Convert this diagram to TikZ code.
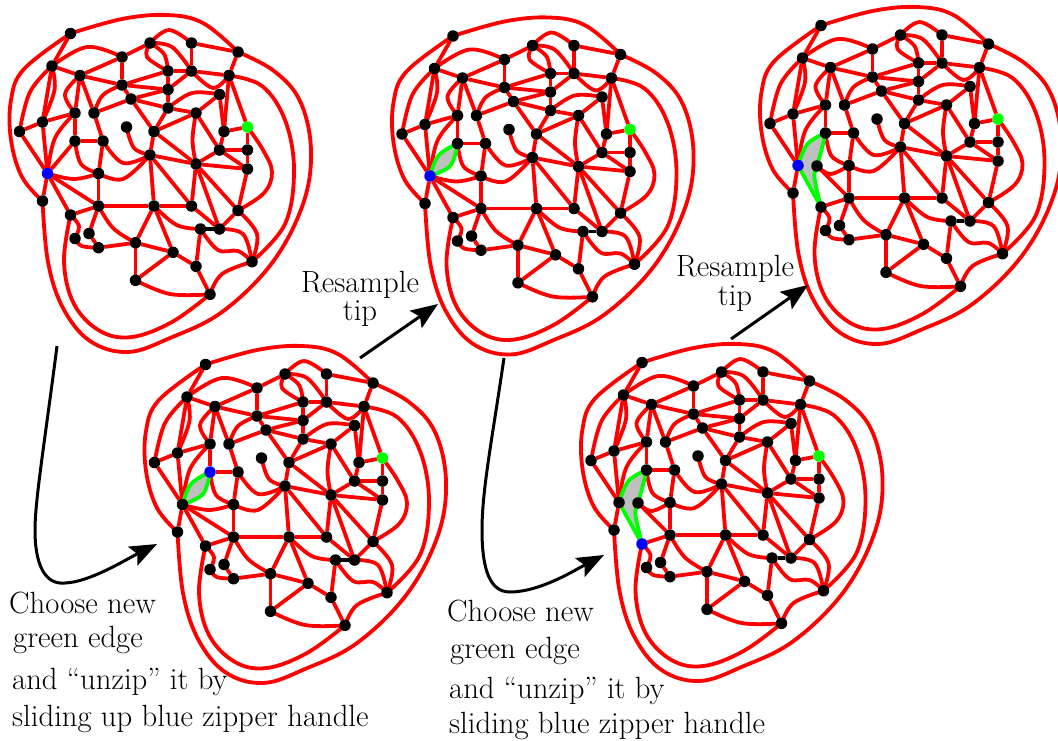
\documentclass[tikz,border=0pt]{standalone}
\usepackage{tikz}
\usetikzlibrary{arrows.meta,backgrounds}

\newcommand{\curveedge}[3]{\draw[edge] plot[smooth,tension=0.62] coordinates {(#1.center) #2 (#3.center)};}

% vertices and edges that every copy of the map has
\newcommand{\sharedmap}{
    \node[vert] (a) at (70.5,33.5) {};
    \node[vert] (b) at (52,66) {};
    \node[vert] (c) at (80,75.5) {};
    \node[vert] (d) at (122,57) {};
    \node[vert] (e) at (150,43) {};
    \node[vert] (f) at (191.5,43) {};
    \node[vert] (g) at (238,52) {};
    \node[vert] (h) at (168,71) {};
    \node[vert] (i) at (191.5,71) {};
    \node[vert] (j) at (229,75.5) {};
    \node[vert] (k) at (122,85) {};
    \node[vert] (l) at (168,89.5) {};
    \node[vert] (m) at (131,99) {};
    \node[vert] (n) at (168,108) {};
    \node[vert] (o) at (219.5,94.5) {};
    \node[vert] (p) at (196,113) {};
    \node[vert] (q) at (75,113) {};
    \node[vert] (r) at (94,113) {};
    \node[vert] (s) at (42.5,122) {};
    \node[vert] (t) at (19.5,131.5) {};
    \node[vert] (u) at (126.5,127) {};
    \node[vert] (v) at (154,131.5) {};
    \node[vert] (w) at (224,131.5) {};
    \node[vert,fill=green] (x) at (247.5,127) {};
    \node[vert,handleY] (y) at (75,141) {};
    \node[vert] (z) at (103,141) {};
    \node[vert] (aa) at (150,155) {};
    \node[vert] (ab) at (219.5,150) {};
    \node[vert] (ac) at (247.5,150) {};
    \node[vert] (ad) at (196,164) {};
    \node[vert] (ae) at (247.5,169) {};
    \node[vert,handleB] (B) at (47.5,173.5) {};
    \node[vert] (af) at (98.5,173.5) {};
    \node[vert] (ag) at (42.5,201) {};
    \node[vert] (ah) at (98.5,206) {};
    \node[vert] (ai) at (154,206) {};
    \node[vert] (aj) at (191.5,206) {};
    \node[vert] (ak) at (238,210.5) {};
    \node[vert,handleL] (al) at (70.5,215) {};
    \node[vert] (am) at (200.5,229) {};
    \node[vert] (an) at (219.5,229) {};
    \node[vert] (ao) at (135.5,242.7) {};
    \node[vert] (ap) at (89,233.5) {};
    \node[vert] (aq) at (75,238.5) {};
    \node[vert] (ar) at (98.5,247.7) {};
    \node[vert] (as) at (173,252.3) {};
    \node[vert] (at) at (196,266.3) {};
    \node[vert] (au) at (252,261.7) {};
    \node[vert] (av) at (135.5,280.3) {};
    \node[vert] (aw) at (210,294.3) {};
    \begin{scope}[on background layer]
    % outer curves
    \curveedge{a}{(122,19) (167,15) (203,23)}{g}
    \curveedge{g}{(274,71) (300,101) (311,150) (303,204) (272,263) (222,312) (170,338) (128,352) (90,341) (63,308) (48,262)}{ag}
    \curveedge{a}{(24,69) (11,100) (11,140) (22,177)}{ag}
    \curveedge{j}{(262,86) (285,120) (294,170) (285,224)}{au}
    \curveedge{al}{(64,262) (74,304) (100,331) (132,337) (172,322)}{aw}
    % top of the map
    \draw[edge] (a) -- (b);
    \draw[edge] (b) -- (c);
    \draw[edge] (c) -- (d);
    \draw[edge] (d) -- (e);
    \draw[edge] (c) -- (k);
    \draw[edge] (d) -- (k);
    \draw[edge] (k) -- (h);
    \draw[edge] (k) -- (l);
    \draw[edge] (k) -- (m);
    \draw[edge] (f) -- (g);
    \draw[edge] (f) -- (i);
    \draw[edge] (h) -- (i);
    \draw[edge] (i) -- (j);
    \draw[edge] (g) -- (j);
    \draw[edge] (i) -- (l);
    \draw[edge] (h) -- (l);
    \draw[edge] (l) -- (n);
    \draw[edge] (l) -- (m);
    \draw[edge] (m) -- (r);
    \draw[edge] (m) -- (n);
    \draw[edge] (m) -- (v);
    \draw[edge] (n) -- (v);
    \draw[edge] (n) -- (p);
    \draw[edge] (v) -- (p);
    \draw[edge] (o) -- (p);
    \draw[edge] (o) -- (w);
    \draw[edge] (j) -- (x);
    \draw[edge] (w) -- (x);
    \draw[edge] (x) -- (ac);
    \draw[edge] (w) -- (ab);
    \draw[edge] (ab) -- (ac);
    \draw[edge] (ab) -- (ae);
    \draw[edge] (ac) -- (ae);
    \draw[edge] (ab) -- (p);
    \draw[edge] (ab) -- (ad);
    \draw[edge] (v) -- (aa);
    \draw[edge] (v) -- (ad);
    \draw[edge] (aa) -- (ad);
    \draw[edge] (ad) -- (ae);
    \curveedge{b}{(30,92)}{t}
    \curveedge{b}{(87,47)}{d}
    \curveedge{b}{(54.5,90)}{s}
    \draw[edge] (b) -- (s);
    \curveedge{e}{(169,30)}{f}
    \curveedge{e}{(164,54)}{h}
    \curveedge{e}{(147,57)}{h}
    \curveedge{e}{(172,47)}{i}
    \curveedge{i}{(213,88)}{j}
    \curveedge{n}{(192,93)}{o}
    \curveedge{k}{(103,95)}{r}
    \curveedge{j}{(226.5,103)}{w}
    \curveedge{p}{(192.5,140)}{ad}
    \curveedge{u}{(134,148)}{aa}
    \curveedge{x}{(263,150) (272,172) (264,193)}{ak}
    % left of the map
    \draw[edge] (c) -- (q);
    \draw[edge] (c) -- (r);
    \draw[edge] (q) -- (s);
    \draw[edge] (s) -- (t);
    \draw[edge] (q) -- (y);
    \draw[edge] (r) -- (z);
    \draw[edge] (y) -- (z);
    \draw[edge] (z) -- (af);
    \draw[edge] (s) -- (B);
    \draw[edge] (t) -- (B);
    \draw[edge] (B) -- (ag);
    \draw[edge] (af) -- (ah);
    \curveedge{c}{(65,94)}{q}
    \curveedge{q}{(55,138)}{B}
    \curveedge{y}{(81,164)}{af}
    \curveedge{z}{(123,163)}{aa}
    \curveedge{af}{(123,179)}{aa}
    % bottom of the map
    \draw[edge] (aa) -- (ai);
    \draw[edge] (aa) -- (aj);
    \draw[edge] (ad) -- (aj);
    \draw[edge] (ad) -- (an);
    \draw[edge] (ad) -- (ak);
    \draw[edge] (ae) -- (ak);
    \draw[edge] (ah) -- (ai);
    \draw[edge] (ai) -- (aj);
    \draw[edge] (al) -- (ah);
    \draw[edge] (ah) -- (ap);
    \draw[edge] (ai) -- (ao);
    \draw[edge] (ai) -- (as);
    \draw[edge] (aj) -- (an);
    \draw[edge] (an) -- (ak);
    \draw[edge] (am) -- (at);
    \draw[edge] (ap) -- (ar);
    \draw[edge] (ar) -- (ao);
    \draw[edge] (ao) -- (as);
    \draw[edge] (ao) -- (av);
    \draw[edge] (as) -- (av);
    \draw[edge] (as) -- (at);
    \draw[edge] (at) -- (aw);
    \draw[edge,black] (am) -- (an);
    \curveedge{ah}{(113.3,228.3)}{ao}
    \curveedge{ai}{(176.7,225)}{am}
    \curveedge{am}{(218,250) (238,251)}{au}
    \curveedge{an}{(243,234)}{au}
    \curveedge{ak}{(257,234)}{au}
    \curveedge{al}{(79,226)}{aq}
    \curveedge{aq}{(81.7,246)}{ar}
    \curveedge{av}{(170,294)}{aw}
    \curveedge{aw}{(222,274)}{au}
    \end{scope}
}

% the two edges that go with the blue vertex until it is unzipped
\newcommand{\closedspokes}{
    \begin{scope}[on background layer]
    \draw[edge] (B) -- (al);
    \draw[edge] (B) -- (ah);
    \curveedge{B}{(74,179)}{af}
    \end{scope}
}

% short unzipped part
\newcommand{\shortlens}{
    \begin{scope}[on background layer]
    \path[fill=zipgray] plot[smooth,tension=0.62] coordinates {(B.center) (56,153) (y.center)} -- plot[smooth,tension=0.62] coordinates {(y.center) (68,163) (B.center)} -- cycle;
    \draw[zip] plot[smooth,tension=0.62] coordinates {(B.center) (56,153) (y.center)};
    \draw[zip] plot[smooth,tension=0.62] coordinates {(y.center) (68,163) (B.center)};
    \end{scope}
}

% long unzipped part, the far side gets its own vertex
\newcommand{\longlens}{
    \node[vert] (Bb) at (66.5,174) {};
    \begin{scope}[on background layer]
    \draw[edge] (Bb) -- (ah);
    \curveedge{Bb}{(80,182)}{af}
    \path[fill=zipgray] plot[smooth,tension=0.62] coordinates {(B.center) (57,152) (y.center)} -- plot[smooth,tension=0.62] coordinates {(y.center) (71,158) (Bb.center) (64,186) (al.center)} -- cycle;
    \draw[zip] plot[smooth,tension=0.62] coordinates {(B.center) (57,152) (y.center)};
    \draw[zip] plot[smooth,tension=0.62] coordinates {(y.center) (71,158) (Bb.center) (64,186) (al.center)};
    \draw[zip] (B) -- (al);
    \end{scope}
}

\definecolor{zipgray}{gray}{0.75}

\begin{document}
\begin{tikzpicture}[
        x=1pt,y=-1pt,
        vert/.style={circle,fill=black,inner sep=0pt,outer sep=0pt,minimum size=11.5pt},
        edge/.style={draw=red,line width=3.8pt,line join=round},
        zip/.style={draw=green,line width=3.8pt,line join=round},
        handleB/.style={},
        handleY/.style={},
        handleL/.style={},
        arrow/.style={draw=black,line width=3pt,-{Stealth[length=27pt,width=21pt,inset=5pt]}},
        note/.style={font=\fontsize{30.7}{34}\selectfont,inner sep=0pt},
    ]
    \useasboundingbox (0,0) rectangle (1058,740);

    \begin{scope}[name prefix=one-,handleB/.style={fill=blue}]
        \sharedmap
        \closedspokes
        \begin{scope}[on background layer]
        \draw[edge] (B) -- (y);
        \end{scope}
    \end{scope}
    \begin{scope}[shift={(382.5,2.5)},name prefix=two-,handleB/.style={fill=blue}]
        \sharedmap
        \closedspokes
        \shortlens
    \end{scope}
    \begin{scope}[shift={(750.5,-8)},name prefix=three-,handleB/.style={fill=blue}]
        \sharedmap
        \longlens
    \end{scope}
    \begin{scope}[shift={(135,331)},name prefix=four-,handleY/.style={fill=blue}]
        \sharedmap
        \closedspokes
        \shortlens
    \end{scope}
    \begin{scope}[shift={(571.5,329)},name prefix=five-,handleL/.style={fill=blue}]
        \sharedmap
        \longlens
    \end{scope}

    \coordinate (drop1) at (57,346);
    \coordinate (land1) at (157,544);
    \coordinate (up1) at (360,358);
    \coordinate (tip1) at (438,304);
    \coordinate (drop2) at (504,358);
    \coordinate (land2) at (604,555);
    \coordinate (up2) at (731,339);
    \coordinate (tip2) at (808,285);

    \draw[arrow] (drop1) .. controls (45,440) and (35,500) .. (35,530) .. controls (35,565) and (45,585) .. (65,583) .. controls (90,582) and (125,560) .. (land1);
    \draw[arrow] (up1) -- (tip1);
    \draw[arrow] (drop2) .. controls (492,440) and (482,490) .. (482,530) .. controls (482,570) and (490,592) .. (510,592) .. controls (540,592) and (575,570) .. (land2);
    \draw[arrow] (up2) -- (tip2);

    \node[note,anchor=base] (res1) at (360,292) {Resample};
    \node[note,anchor=base] (res1b) at (360,320) {tip};
    \node[note,anchor=base] (res2) at (735,276) {Resample};
    \node[note,anchor=base] (res2b) at (735,305) {tip};

    \node[note,anchor=base west] (cho1) at (9,613) {Choose new};
    \node[note,anchor=base west] (gre1) at (13,647) {green edge};
    \node[note,anchor=base west] (unz1) at (12,689) {and ``unzip'' it by};
    \node[note,anchor=base west] (sli1) at (12,726) {sliding up blue zipper handle};

    \node[note,anchor=base west] (cho2) at (447,621) {Choose new};
    \node[note,anchor=base west] (gre2) at (450,658) {green edge};
    \node[note,anchor=base west] (unz2) at (449,698) {and ``unzip'' it by};
    \node[note,anchor=base west] (sli2) at (449,733) {sliding blue zipper handle};
\end{tikzpicture}
\end{document}
